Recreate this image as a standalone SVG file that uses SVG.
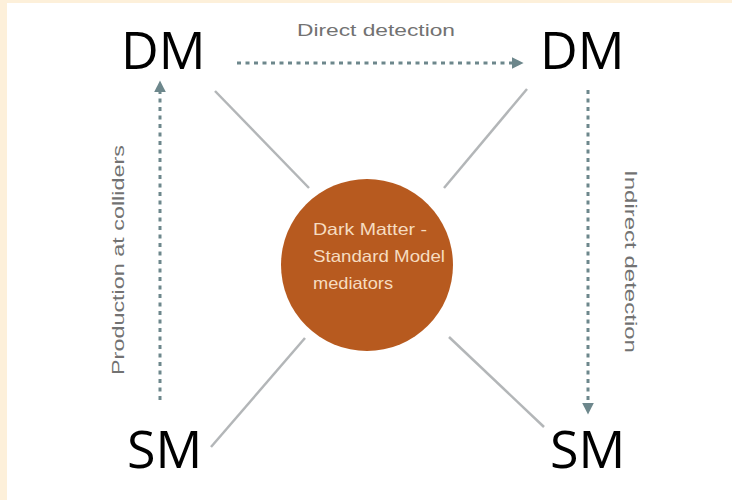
<svg xmlns="http://www.w3.org/2000/svg" width="734" height="500" viewBox="0 0 734 500">
  <style>
    .big { font-family: "Open Sans", "Liberation Sans", sans-serif; font-size: 52px; fill: #000; }
    .lbl { font-family: "Liberation Sans", Arial, sans-serif; font-size: 16.5px; fill: #727272; }
    .inner { font-family: "Liberation Sans", Arial, sans-serif; font-size: 16.5px; fill: #f6dcc0; }
    .spoke { stroke: #b3b6b8; stroke-width: 2.5; fill: none; }
    .dash { stroke: #6d878c; stroke-width: 3; stroke-dasharray: 4 4.5; fill: none; }
  </style>
  <defs>
    <marker id="ah" viewBox="0 0 10 10" refX="2" refY="5" markerWidth="4" markerHeight="4" orient="auto" markerUnits="strokeWidth">
      <path d="M0,0 L10,5 L0,10 z" fill="#6d878c"/>
    </marker>
  </defs>
  <rect x="0" y="0" width="734" height="500" fill="#ffffff"/>
  <rect x="0" y="0" width="7" height="500" fill="#fdf0da"/>
  <rect x="0" y="0" width="732" height="3" fill="#fdf0da"/>

  <g id="connectors">
    <line class="spoke" x1="215" y1="91" x2="309" y2="188"/>
    <line class="spoke" x1="527" y1="89" x2="444" y2="188"/>
    <line class="spoke" x1="211" y1="447" x2="305" y2="338"/>
    <line class="spoke" x1="544" y1="427" x2="449" y2="337"/>
    <line class="dash" x1="237" y1="63" x2="514" y2="63" marker-end="url(#ah)"/>
    <line class="dash" x1="160" y1="400" x2="160" y2="90" marker-end="url(#ah)"/>
    <line class="dash" x1="588" y1="90" x2="588" y2="405" marker-end="url(#ah)"/>
  </g>

  <g id="direct-label"><text class="lbl" x="297" y="36" textLength="158" lengthAdjust="spacingAndGlyphs">Direct detection</text></g>
  <g id="production-label"><text class="lbl" transform="translate(124,375) rotate(-90)" textLength="230" lengthAdjust="spacingAndGlyphs">Production at colliders</text></g>
  <g id="indirect-label"><text class="lbl" transform="translate(625,170) rotate(90)" textLength="183" lengthAdjust="spacingAndGlyphs">Indirect detection</text></g>

  <g id="mediator">
    <circle cx="367" cy="265" r="86" fill="#b75a1f"/>
    <text class="inner" x="313" y="235" textLength="114" lengthAdjust="spacingAndGlyphs">Dark Matter -</text>
    <text class="inner" x="313" y="262" textLength="132" lengthAdjust="spacingAndGlyphs">Standard Model</text>
    <text class="inner" x="313" y="289" textLength="80" lengthAdjust="spacingAndGlyphs">mediators</text>
  </g>

  <g id="dm-left"><text class="big" x="121" y="69">DM</text></g>
  <g id="dm-right"><text class="big" x="540" y="69">DM</text></g>
  <g id="sm-left"><text class="big" x="127" y="468">SM</text></g>
  <g id="sm-right"><text class="big" x="550" y="468">SM</text></g>
</svg>
